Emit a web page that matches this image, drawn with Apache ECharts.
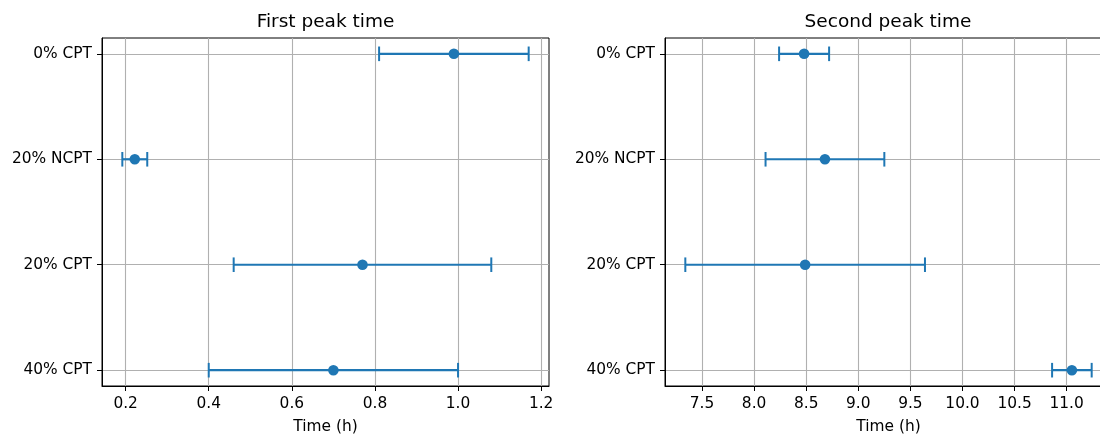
<!DOCTYPE html>
<html>
<head>
<meta charset="utf-8">
<script src="https://cdn.jsdelivr.net/npm/echarts@6/dist/echarts.min.js"></script>
<style>
  html, body { margin: 0; padding: 0; background: #fff; }
  #chart { width: 1100px; height: 434px; }
</style>
</head>
<body>
<div id="chart"></div>
<script>
// Groups, top to bottom
const groups = ['0% CPT', '20% NCPT', '20% CPT', '40% CPT'];

// First peak time (h): mean and symmetric error
const firstMean = [0.99, 0.222, 0.77, 0.70];
const firstErr = [0.18, 0.03, 0.31, 0.30];

// Second peak time (h): mean and symmetric error
const secondMean = [8.48, 8.68, 8.49, 11.05];
const secondErr = [0.24, 0.57, 1.15, 0.19];

// Tick values on the time axes
const firstTicks = [0.2, 0.4, 0.6, 0.8, 1.0, 1.2];
const secondTicks = [7.5, 8.0, 8.5, 9.0, 9.5, 10.0, 10.5, 11.0];

const groupIdx = groups.map((_, i) => i);

const FONT = 'DejaVu Sans';
const BLUE = '#1f77b4';
const GRIDC = '#b0b0b0';
const LABEL_SIZE = 15.4;

// Data extent plus a 5% margin on each side
function rangeWithMargin(means, errs) {
  let lo = Infinity, hi = -Infinity;
  means.forEach((m, i) => { lo = Math.min(lo, m - errs[i]); hi = Math.max(hi, m + errs[i]); });
  const pad = (hi - lo) * 0.05;
  return [lo - pad, hi + pad];
}

function xAxisFor(gridIndex, ticks, range) {
  return {
    type: 'value', gridIndex, position: 'bottom', min: range[0], max: range[1],
    name: 'Time (h)', nameLocation: 'middle', nameGap: 33,
    nameTextStyle: { fontFamily: FONT, fontSize: LABEL_SIZE, color: '#000' },
    axisLine: { show: true, onZero: false, lineStyle: { color: '#000', width: 1 } },
    axisTick: { show: true, inside: false, length: 5, customValues: ticks, lineStyle: { color: '#000' } },
    axisLabel: { customValues: ticks, margin: 10, fontFamily: FONT, fontSize: LABEL_SIZE, color: '#000',
                 formatter: v => v.toFixed(1) },
    splitLine: { show: true, lineStyle: { color: GRIDC, width: 1.1 } }
  };
}

function yAxisFor(gridIndex) {
  return {
    type: 'value', gridIndex, position: 'left', min: -0.15, max: groups.length - 1 + 0.15, inverse: true,
    axisLine: { show: true, onZero: false, lineStyle: { color: '#000', width: 1 } },
    axisTick: { show: true, inside: false, length: 5, customValues: groupIdx, lineStyle: { color: '#000' } },
    axisLabel: { customValues: groupIdx, margin: 10, fontFamily: FONT, fontSize: LABEL_SIZE, color: '#000',
                 formatter: v => groups[Math.round(v)] },
    splitLine: { show: true, lineStyle: { color: GRIDC, width: 1.1 } }
  };
}

// Horizontal error bar with end caps
function errorBarItem(params, api) {
  const a = api.coord([api.value(0), api.value(2)]);
  const b = api.coord([api.value(1), api.value(2)]);
  const cap = 7.3;
  const style = { stroke: BLUE, lineWidth: 2.2 };
  const capStyle = { stroke: BLUE, lineWidth: 2 };
  return {
    type: 'group',
    children: [
      { type: 'line', shape: { x1: a[0], y1: a[1], x2: b[0], y2: b[1] }, style },
      { type: 'line', shape: { x1: a[0], y1: a[1] - cap, x2: a[0], y2: a[1] + cap }, style: capStyle },
      { type: 'line', shape: { x1: b[0], y1: b[1] - cap, x2: b[0], y2: b[1] + cap }, style: capStyle }
    ]
  };
}

function seriesFor(idx, means, errs) {
  return [
    {
      type: 'custom', xAxisIndex: idx, yAxisIndex: idx, renderItem: errorBarItem, z: 3,
      encode: { x: [0, 1], y: 2 },
      data: means.map((m, i) => [m - errs[i], m + errs[i], i])
    },
    {
      type: 'scatter', xAxisIndex: idx, yAxisIndex: idx, symbol: 'circle', symbolSize: 10.6, z: 4,
      itemStyle: { color: BLUE, opacity: 1 },
      data: means.map((m, i) => [m, i])
    }
  ];
}

const titleStyle = { fontFamily: FONT, fontSize: 18.5, fontWeight: 'normal', color: '#000' };

const chart = echarts.init(document.getElementById('chart'), null, { renderer: 'canvas' });
chart.setOption({
  animation: false,
  backgroundColor: '#fff',
  title: [
    { text: 'First peak time', left: 325.5, top: 13, padding: 0, textAlign: 'center', textStyle: titleStyle },
    { text: 'Second peak time', left: 888, top: 13, padding: 0, textAlign: 'center', textStyle: titleStyle }
  ],
  grid: [
    { left: 102, top: 38, width: 447, height: 348, show: true, borderColor: '#000', borderWidth: 1,
      containLabel: false, outerBoundsMode: 'none' },
    { left: 665, top: 38, width: 447, height: 348, show: true, borderColor: '#000', borderWidth: 1,
      containLabel: false, outerBoundsMode: 'none' }
  ],
  xAxis: [
    xAxisFor(0, firstTicks, rangeWithMargin(firstMean, firstErr)),
    xAxisFor(1, secondTicks, rangeWithMargin(secondMean, secondErr))
  ],
  yAxis: [yAxisFor(0), yAxisFor(1)],
  series: [...seriesFor(0, firstMean, firstErr), ...seriesFor(1, secondMean, secondErr)]
});
</script>
</body>
</html>
